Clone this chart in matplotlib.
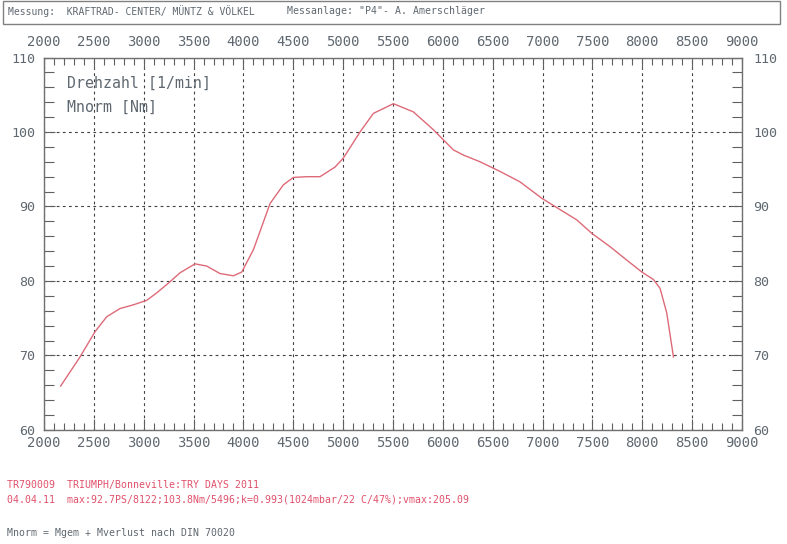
import numpy as np
import matplotlib
matplotlib.use('Agg')
import matplotlib.pyplot as plt
from matplotlib.patches import Rectangle
from matplotlib.transforms import ScaledTranslation

# --- data ---
rpm = [2167, 2361, 2512, 2629, 2762, 2896, 3030, 3130, 3247, 3364, 3515, 3632,
       3765, 3899, 3983, 4100, 4267, 4400, 4500, 4635, 4768, 4919, 5002, 5169,
       5303, 5504, 5704, 5905, 6105, 6206, 6373, 6574, 6774, 6992, 7209, 7343,
       7493, 7677, 7844, 7995, 8111, 8178, 8245, 8312]
torque = [65.9, 69.8, 73.2, 75.2, 76.3, 76.8, 77.4, 78.4, 79.7, 81.1, 82.3, 82.0,
          81.0, 80.7, 81.2, 84.2, 90.4, 92.9, 93.9, 94.0, 94.0, 95.3, 96.5, 100.0,
          102.5, 103.8, 102.7, 100.3, 97.6, 96.9, 96.0, 94.7, 93.3, 91.1, 89.3, 88.2,
          86.4, 84.6, 82.8, 81.2, 80.2, 79.0, 75.7, 69.8]

x_ticks = list(range(2000, 9001, 500))
y_ticks = [60, 70, 80, 90, 100, 110]

header1 = 'Messung:  KRAFTRAD- CENTER/ MÜNTZ & VÖLKEL'
header2 = 'Messanlage: "P4"- A. Amerschläger'
info1 = 'TR790009  TRIUMPH/Bonneville:TRY DAYS 2011'
info2 = '04.04.11  max:92.7PS/8122;103.8Nm/5496;k=0.993(1024mbar/22 C/47%);vmax:205.09'
footer = 'Mnorm = Mgem + Mverlust nach DIN 70020'

gray = '#5f6870'
red = '#e0506a'
mono = 'DejaVu Sans Mono'

fig = plt.figure(figsize=(7.87, 5.44), dpi=100)
ax = fig.add_axes([0.0559, 0.2096, 0.887, 0.6847])

ax.plot(rpm, torque, color='#de6a78', lw=1.0)

ax.set_xlim(2000, 9000)
ax.set_ylim(60, 110)
ax.set_xticks(x_ticks)
ax.set_xticks(range(2000, 9001, 100), minor=True)
ax.set_yticks(y_ticks)
ax.set_yticks(range(60, 111, 2), minor=True)

ax.tick_params(which='both', direction='in', top=True, right=True,
               labeltop=True, labelright=True, color='#606060')
ax.tick_params(axis='x', which='major', length=8, width=0.8, labelsize=10,
               labelcolor=gray, pad=4.5)
ax.tick_params(axis='y', which='major', length=8, width=0.8, labelsize=9.6,
               labelcolor=gray, pad=6.5)
ax.tick_params(axis='x', which='minor', length=5, width=0.8)
ax.tick_params(axis='y', which='minor', length=7, width=0.8)

# top labels sit a bit higher, right labels a bit further out
up = ScaledTranslation(0, 2.5 / 100, fig.dpi_scale_trans)
out = ScaledTranslation(2 / 100, 0, fig.dpi_scale_trans)
for t in ax.xaxis.get_major_ticks():
    t.label1.set_family(mono)
    t.label2.set_family(mono)
    t.label2.set_transform(t.label2.get_transform() + up)
for t in ax.yaxis.get_major_ticks():
    t.label1.set_family(mono)
    t.label2.set_family(mono)
    t.label2.set_transform(t.label2.get_transform() + out)

ax.grid(True, which='major', color='#404040', lw=0.8, linestyle=(0, (2.5, 3)))
for s in ax.spines.values():
    s.set_color('#707070')
    s.set_linewidth(1.0)

ax.text(0.033, 0.93, 'Drehzahl [1/min]', transform=ax.transAxes, family=mono,
        fontsize=10.7, color=gray, va='center')
ax.text(0.033, 0.866, 'Mnorm [Nm]', transform=ax.transAxes, family=mono,
        fontsize=10.7, color=gray, va='center')

# header box
fig.patches.append(Rectangle((3 / 787, 1 - 24 / 544), 777 / 787, 23 / 544,
                             transform=fig.transFigure, fill=False,
                             edgecolor='#808080', lw=1.0))
fig.text(8 / 787, 1 - 11 / 544, header1, family=mono, fontsize=7.0,
         color=gray, va='center')
fig.text(287 / 787, 1 - 11 / 544, header2, family=mono, fontsize=7.1,
         color=gray, va='center')

fig.text(7 / 787, 1 - 485 / 544, info1, family=mono, fontsize=7.15, color=red, va='center')
fig.text(7 / 787, 1 - 500 / 544, info2, family=mono, fontsize=7.15, color=red, va='center')
fig.text(7 / 787, 1 - 533 / 544, footer, family=mono, fontsize=7.15, color=gray, va='center')

fig.savefig('out.png', dpi=100)
